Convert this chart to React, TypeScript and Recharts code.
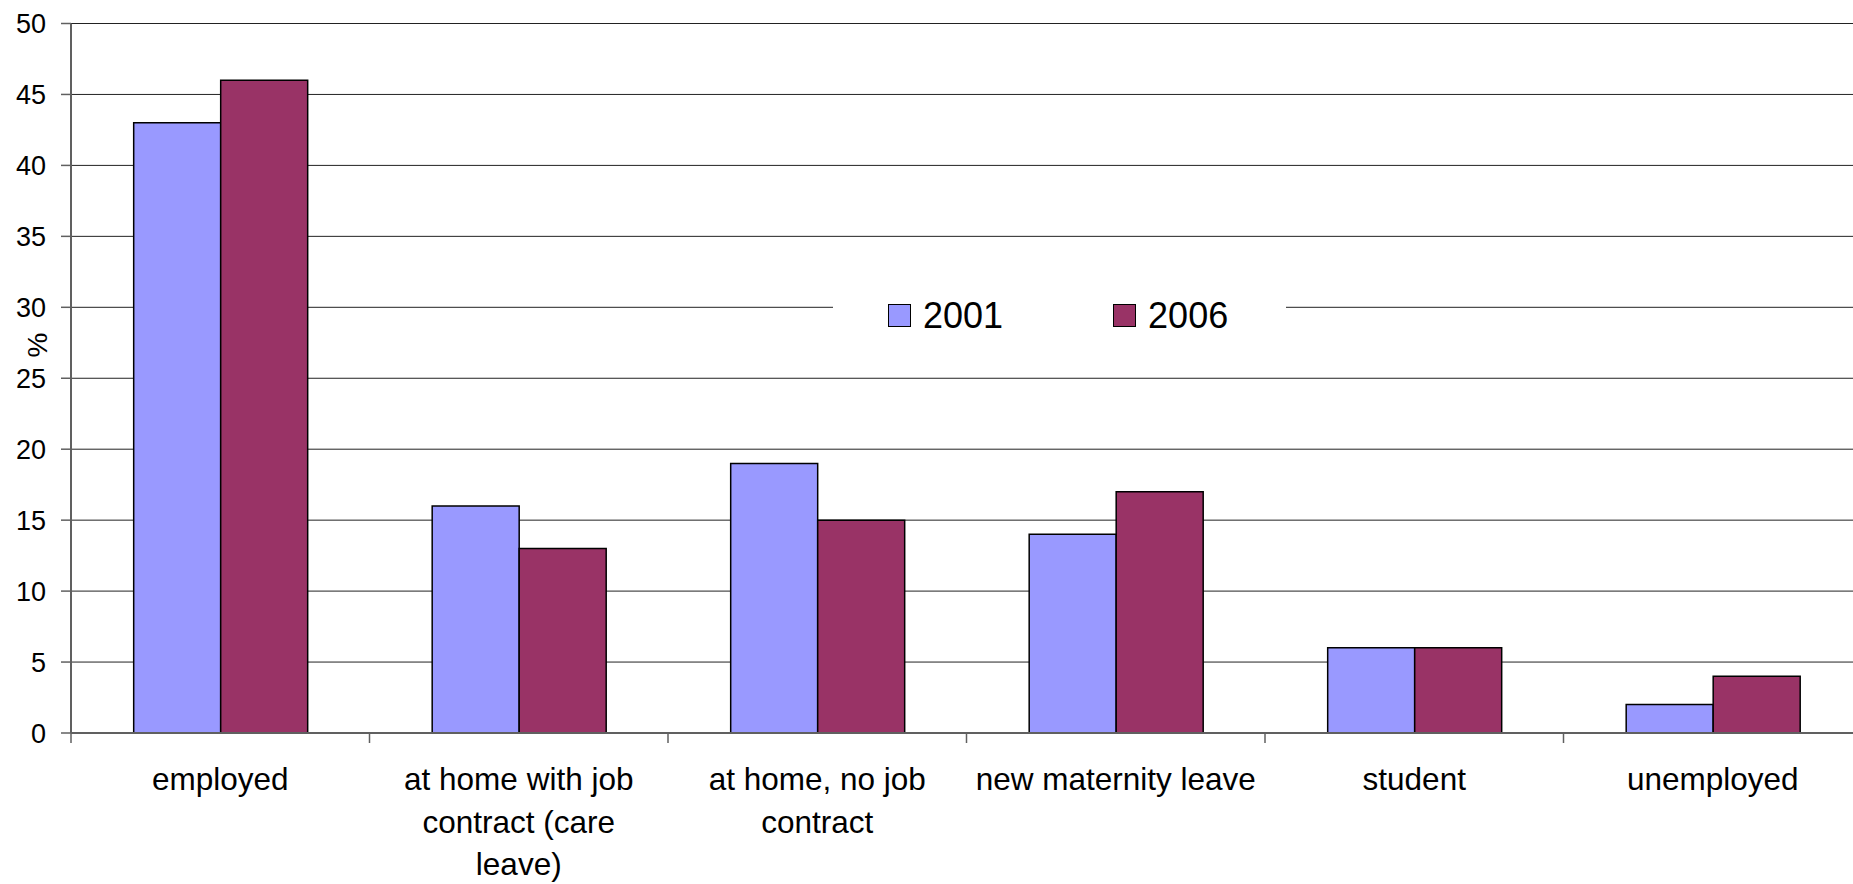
import { BarChart, Bar, XAxis, YAxis, CartesianGrid, Legend } from "recharts";

// Categories (line breaks as in the original axis labels)
const CATEGORIES = [
  "employed",
  "at home with job\ncontract (care\nleave)",
  "at home, no job\ncontract",
  "new maternity leave",
  "student",
  "unemployed",
];

const SERIES_2001 = [43, 16, 19, 14, 6, 2];
const SERIES_2006 = [46, 13, 15, 17, 6, 4];

const Y_TICKS = [0, 5, 10, 15, 20, 25, 30, 35, 40, 45, 50];

const SERIES = [
  { key: "y2001", label: "2001", color: "#9999FF" },
  { key: "y2006", label: "2006", color: "#993366" },
];

const FONT = '"Liberation Sans", Arial, sans-serif';
const AXIS_COLOR = "#606060";

const data = CATEGORIES.map((name, i) => ({
  name,
  y2001: SERIES_2001[i],
  y2006: SERIES_2006[i],
}));

// category label + tick mark on the left boundary of each band
const CategoryTick = (props: any) => {
  const { x, y, payload } = props;
  const half = payload?.offset ?? 0;
  const lines = String(payload.value).split("\n");
  return (
    <g>
      <line x1={x - half} x2={x - half} y1={y - 10} y2={y} stroke={AXIS_COLOR} strokeWidth={1.5} />
      <text x={x} y={y + 47} textAnchor="middle" fontFamily={FONT} fontSize={31.5} fill="#000">
        {lines.map((ln, i) => (
          <tspan key={i} x={x} dy={i === 0 ? 0 : 42.5}>
            {ln}
          </tspan>
        ))}
      </text>
    </g>
  );
};

const LegendBox = () => (
  <div
    style={{
      display: "flex",
      alignItems: "center",
      height: "100%",
      paddingLeft: 55,
      boxSizing: "border-box",
      fontFamily: FONT,
      fontSize: 36,
      color: "#000",
    }}
  >
    {SERIES.map((s, i) => (
      <div key={s.key} style={{ display: "flex", alignItems: "center", marginRight: i === 0 ? 110 : 0 }}>
        <div
          style={{
            width: 21,
            height: 21,
            background: s.color,
            border: "1.5px solid #000",
            marginRight: 12,
          }}
        />
        <span>{s.label}</span>
      </div>
    ))}
  </div>
);

export default function App() {
  return (
    <div
      style={{
        position: "fixed",
        left: 0,
        top: 0,
        width: 1853,
        height: 884,
        overflow: "hidden",
        background: "#fff",
      }}
    >
      <BarChart
        width={1870}
        height={884}
        data={data}
        margin={{ top: 23.5, right: 8, left: 0, bottom: 0 }}
        barCategoryGap="21%"
        barGap={0}
      >
        <CartesianGrid vertical={false} stroke="#222" strokeWidth={1} />
        <XAxis
          dataKey="name"
          interval={0}
          height={151}
          tickLine={false}
          tickSize={10}
          tickMargin={0}
          axisLine={{ stroke: AXIS_COLOR, strokeWidth: 2 }}
          tick={<CategoryTick />}
        />
        <YAxis
          width={71}
          domain={[0, 50]}
          ticks={Y_TICKS}
          interval={0}
          tickSize={10}
          tickMargin={15}
          tickLine={{ stroke: AXIS_COLOR, strokeWidth: 1.5 }}
          axisLine={{ stroke: AXIS_COLOR, strokeWidth: 2 }}
          tick={{ fontFamily: FONT, fontSize: 27, fill: "#000" }}
          label={{
            content: () => (
              <text
                x={37}
                y={345}
                transform="rotate(-90 37 345)"
                textAnchor="middle"
                dominantBaseline="central"
                fontFamily={FONT}
                fontSize={28}
                fill="#000"
              >
                %
              </text>
            ),
          }}
        />
        <Legend
          layout="horizontal"
          verticalAlign="middle"
          align="center"
          content={<LegendBox />}
          wrapperStyle={{ left: 833, top: 262, width: 453, height: 107, background: "#fff" }}
        />
        {SERIES.map((s) => (
          <Bar
            key={s.key}
            dataKey={s.key}
            name={s.label}
            fill={s.color}
            stroke="#000"
            strokeWidth={1.5}
            isAnimationActive={false}
          />
        ))}
      </BarChart>
    </div>
  );
}
